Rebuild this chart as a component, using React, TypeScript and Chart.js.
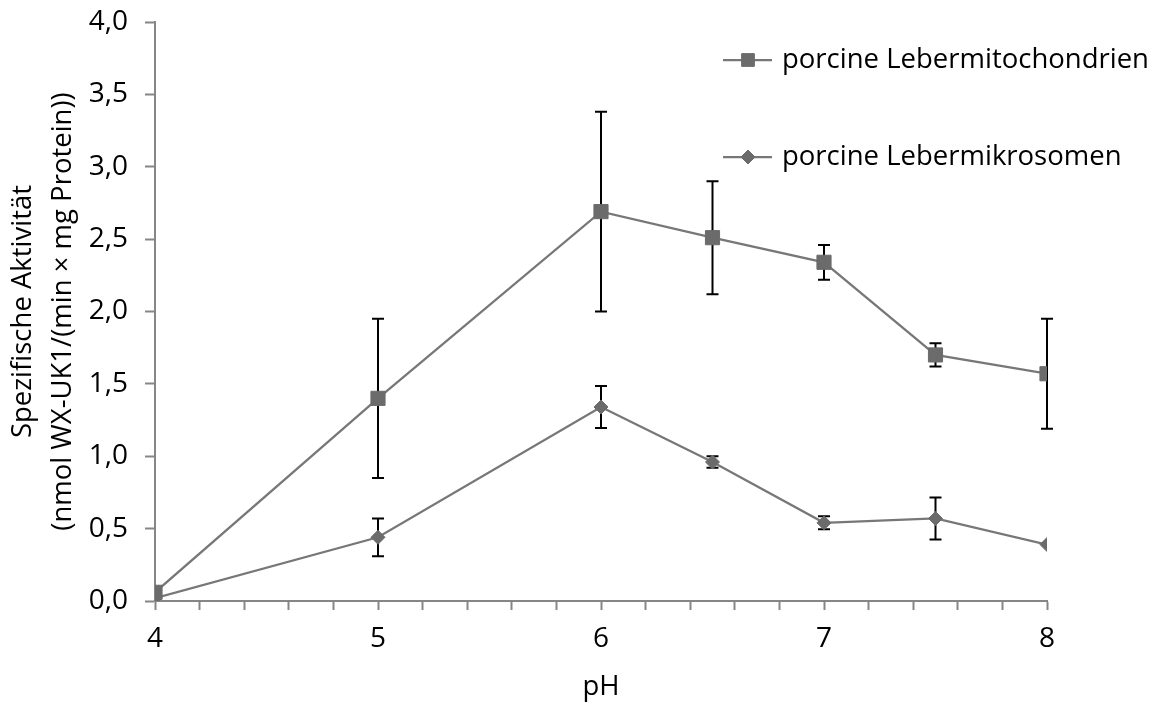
import React, { useEffect, useRef } from "react";
import { Chart, registerables } from "chart.js";

Chart.register(...registerables);

const pHValues = [4, 5, 6, 6.5, 7, 7.5, 8];
const mitochondrien = [0.06, 1.4, 2.69, 2.51, 2.34, 1.7, 1.57];
const mitochondrienErr = [0, 0.55, 0.69, 0.39, 0.12, 0.08, 0.38];
const mikrosomen = [0.02, 0.44, 1.34, 0.96, 0.54, 0.57, 0.39];
const mikrosomenErr = [0, 0.13, 0.145, 0.04, 0.045, 0.145, 0];
const seriesNames = ["porcine Lebermitochondrien", "porcine Lebermikrosomen"];
const yTitle = ["Spezifische Aktivität", "(nmol WX-UK1/(min × mg Protein))"];
const xTitle = "pH";

const FONT = "'Open Sans', sans-serif";
const LINE = "#777777";
const MARK = "#6b6b6b";
const AXIS = "#868686";

const errorBarPlugin = {
  id: "errorBars",
  beforeDatasetsDraw(chart: any) {
    const ctx = chart.ctx;
    const ys = chart.scales.y;
    const xs = chart.scales.x;
    ctx.save();
    ctx.strokeStyle = "#000000";
    ctx.lineWidth = 2;
    chart.data.datasets.forEach((ds: any) => {
      const errs: number[] = ds.errors || [];
      ds.data.forEach((p: any, i: number) => {
        const e = errs[i];
        if (!e) return;
        const x = xs.getPixelForValue(p.x);
        const y1 = ys.getPixelForValue(p.y + e);
        const y2 = ys.getPixelForValue(p.y - e);
        ctx.beginPath();
        ctx.moveTo(x, y1);
        ctx.lineTo(x, y2);
        ctx.moveTo(x - 6, y1);
        ctx.lineTo(x + 6, y1);
        ctx.moveTo(x - 6, y2);
        ctx.lineTo(x + 6, y2);
        ctx.stroke();
      });
    });
    ctx.restore();
  },
};

const legendPlugin = {
  id: "customLegend",
  afterDraw(chart: any) {
    const ctx = chart.ctx;
    const items = [
      { y: 60, style: "rect", r: 9 },
      { y: 157, style: "rectRot", r: 7 },
    ];
    ctx.save();
    chart.data.datasets.forEach((ds: any, i: number) => {
      const it = items[i];
      ctx.strokeStyle = ds.borderColor;
      ctx.lineWidth = 2.25;
      ctx.beginPath();
      ctx.moveTo(723, it.y);
      ctx.lineTo(772, it.y);
      ctx.stroke();
      ctx.fillStyle = ds.pointBackgroundColor;
      ctx.strokeStyle = ds.pointBorderColor;
      ctx.lineWidth = 1;
      ctx.beginPath();
      if (it.style === "rect") {
        const s = it.r * Math.SQRT1_2;
        ctx.rect(748 - s, it.y - s, 2 * s, 2 * s);
      } else {
        ctx.moveTo(748, it.y - it.r);
        ctx.lineTo(748 + it.r, it.y);
        ctx.lineTo(748, it.y + it.r);
        ctx.lineTo(748 - it.r, it.y);
        ctx.closePath();
      }
      ctx.fill();
      ctx.stroke();
      ctx.fillStyle = "#000000";
      ctx.font = `27.5px ${FONT}`;
      ctx.textAlign = "left";
      ctx.textBaseline = "middle";
      ctx.fillText(ds.label, 782, it.y);
    });
    ctx.restore();
  },
};

export default function App() {
  const ref = useRef<HTMLCanvasElement>(null);

  useEffect(() => {
    document.body.style.margin = "0";
    const canvas = ref.current!;
    const chart = new Chart(canvas, {
      type: "line",
      data: {
        datasets: [
          {
            label: seriesNames[0],
            data: pHValues.map((x, i) => ({ x, y: mitochondrien[i] })),
            errors: mitochondrienErr,
            borderColor: LINE,
            borderWidth: 2.25,
            pointStyle: "rect",
            pointRadius: 10,
            pointBackgroundColor: MARK,
            pointBorderColor: MARK,
            pointBorderWidth: 1,
            tension: 0,
          } as any,
          {
            label: seriesNames[1],
            data: pHValues.map((x, i) => ({ x, y: mikrosomen[i] })),
            errors: mikrosomenErr,
            borderColor: LINE,
            borderWidth: 2.25,
            pointStyle: "rectRot",
            pointRadius: 7,
            pointBackgroundColor: MARK,
            pointBorderColor: MARK,
            pointBorderWidth: 1,
            tension: 0,
          } as any,
        ],
      },
      options: {
        animation: false,
        responsive: false,
        maintainAspectRatio: false,
        layout: { padding: { top: 22, right: 112, left: 0, bottom: 0 } },
        plugins: {
          legend: { display: false },
          tooltip: { enabled: false },
        },
        scales: {
          x: {
            type: "linear",
            min: 4,
            max: 8,
            afterFit: (s: any) => {
              s.height = 105;
              s.paddingLeft = 0;
              s.paddingRight = 0;
            },
            border: { display: true, color: AXIS, width: 2 },
            grid: {
              display: true,
              drawOnChartArea: false,
              drawTicks: true,
              tickLength: 9,
              color: AXIS,
              tickWidth: 2,
            },
            ticks: {
              stepSize: 0.2,
              autoSkip: false,
              maxRotation: 0,
              padding: 12,
              color: "#000000",
              font: { family: FONT, size: 28 },
              callback: (v: any) => {
                const n = Number(v);
                return Math.abs(n - Math.round(n)) < 1e-6 ? String(Math.round(n)) : "";
              },
            },
            title: {
              display: true,
              text: xTitle,
              color: "#000000",
              font: { family: FONT, size: 27.5 },
              padding: { top: 0, bottom: 2 },
            },
          },
          y: {
            type: "linear",
            min: 0,
            max: 4,
            afterFit: (s: any) => {
              s.width = 155;
              s.paddingTop = 0;
              s.paddingBottom = 0;
            },
            border: { display: true, color: AXIS, width: 2 },
            grid: {
              display: true,
              drawOnChartArea: false,
              drawTicks: true,
              tickLength: 10,
              color: AXIS,
              tickWidth: 2,
            },
            ticks: {
              stepSize: 0.5,
              padding: 17,
              color: "#000000",
              font: { family: FONT, size: 28 },
              callback: (v: any) => Number(v).toFixed(1).replace(".", ","),
            },
            title: {
              display: true,
              text: yTitle,
              color: "#000000",
              font: { family: FONT, size: 27.5, lineHeight: 1.45 },
              padding: { top: 3, bottom: 0 },
            },
          },
        },
      } as any,
      plugins: [errorBarPlugin, legendPlugin],
    });
    return () => chart.destroy();
  }, []);

  return (
    <div style={{ width: 1159, height: 706 }}>
      <canvas ref={ref} width={1159} height={706} style={{ display: "block" }} />
    </div>
  );
}
